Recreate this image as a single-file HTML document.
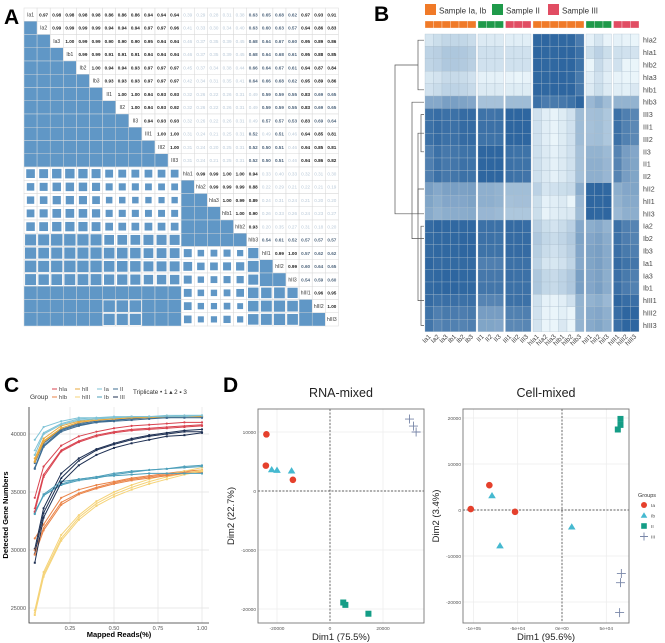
<!DOCTYPE html>
<html><head><meta charset="utf-8"><style>
html,body{margin:0;padding:0;background:#fff;}
svg{display:block;font-family:"Liberation Sans",sans-serif;}
</style></head><body>
<svg id="fig" width="665" height="643" viewBox="0 0 665 643" xmlns="http://www.w3.org/2000/svg">
<g id="A"></g>
<g id="B"></g>
<g id="C"></g>
<g id="D"></g>
<text x="4" y="24" font-size="21" font-weight="bold">A</text>
<text x="374" y="21" font-size="21" font-weight="bold">B</text>
<text x="4" y="392" font-size="21" font-weight="bold">C</text>
<text x="223" y="392" font-size="21" font-weight="bold">D</text>
</svg>
<script>
const samples=["Ia1","Ia2","Ia3","Ib1","Ib2","Ib3","II1","II2","II3","III1","III2","III3","hIa1","hIa2","hIa3","hIb1","hIb2","hIb3","hII1","hII2","hII3","hIII1","hIII2","hIII3"];
const corrRows=[
[.97,.98,.98,.98,.98,.86,.86,.86,.94,.94,.94,.39,.29,.28,.31,.38,.63,.65,.68,.62,.97,.93,.91],
[.99,.99,.99,.99,.94,.94,.94,.97,.97,.96,.41,.33,.30,.34,.40,.63,.60,.63,.57,.94,.86,.83],
[1.00,.99,.99,.90,.90,.90,.95,.94,.94,.46,.37,.35,.39,.45,.68,.64,.67,.60,.95,.89,.86],
[.99,.99,.91,.91,.91,.94,.94,.94,.46,.37,.35,.39,.45,.68,.64,.68,.61,.95,.88,.85],
[1.00,.94,.94,.93,.97,.97,.97,.45,.37,.34,.38,.44,.66,.64,.67,.61,.94,.87,.84],
[.93,.93,.93,.97,.97,.97,.42,.34,.31,.35,.41,.64,.66,.68,.62,.95,.89,.86],
[1.00,1.00,.94,.93,.93,.32,.26,.22,.26,.31,.49,.59,.59,.55,.83,.69,.65],
[1.00,.94,.93,.92,.32,.26,.22,.26,.31,.49,.59,.59,.55,.83,.69,.65],
[.94,.93,.93,.32,.26,.22,.26,.31,.49,.57,.57,.53,.83,.69,.64],
[1.00,1.00,.31,.24,.21,.25,.31,.52,.49,.51,.46,.94,.85,.81],
[1.00,.31,.24,.20,.25,.31,.52,.50,.51,.46,.94,.85,.81],
[.31,.24,.21,.25,.31,.52,.50,.51,.46,.94,.86,.82],
[.99,.99,1.00,1.00,.94,.33,.40,.33,.32,.31,.30],
[.99,.99,.99,.88,.22,.29,.21,.22,.21,.19],
[1.00,.99,.89,.24,.31,.24,.21,.20,.20],
[1.00,.90,.26,.33,.26,.24,.23,.27],
[.93,.20,.35,.27,.31,.18,.20],
[.54,.61,.52,.57,.57,.57],
[.99,1.00,.57,.62,.62],
[.99,.60,.64,.65],
[.54,.59,.60],
[.96,.95],
[1.00]];
const heatRowOrder=["hIa2","hIa1","hIb2","hIa3","hIb1","hIb3","III3","III1","III2","II3","II1","II2","hII2","hII1","hII3","Ia2","Ib2","Ib3","Ia1","Ia3","Ib1","hIII1","hIII2","hIII3"];
const annoGroups=["Sample Ia, Ib","Sample Ia, Ib","Sample Ia, Ib","Sample Ia, Ib","Sample Ia, Ib","Sample Ia, Ib","Sample II","Sample II","Sample II","Sample III","Sample III","Sample III","Sample Ia, Ib","Sample Ia, Ib","Sample Ia, Ib","Sample Ia, Ib","Sample Ia, Ib","Sample Ia, Ib","Sample II","Sample II","Sample II","Sample III","Sample III","Sample III"];
// Panel C data
const mappedFrac=[0.05,0.1,0.2,0.3,0.4,0.5,0.6,0.7,0.8,0.9,1.0];
const cGroups=["hIa","hIb","hII","hIII","Ia","Ib","II","III"];
const cColors=["#d9434f","#ea8347","#e8a83c","#f5d378","#7fc3d6","#4d9fba","#3d6c92","#1d2f52"];
const geneRep1=[
[34500,37200,39000,39800,40200,40500,40700,40800,40900,41000,41000],
[31000,32200,34500,35200,35600,35900,36200,36400,36600,36800,36900],
[37900,39600,40700,41100,41300,41400,41500,41500,41500,41500,41600],
[24800,28100,31300,33000,34200,35000,35600,36100,36500,36800,37100],
[39500,40600,41100,41400,41400,41500,41500,41500,41600,41600,41600],
[33300,34700,35700,36100,36300,36600,36800,36900,37000,37200,37300],
[37500,39200,40400,40900,41100,41200,41300,41400,41400,41500,41500],
[30100,33600,36600,37900,38700,39200,39600,39900,40100,40300,40400]];
const geneRep2=[
[33600,36500,38600,39400,39900,40200,40400,40500,40600,40700,40800],
[30000,31900,34100,34900,35400,35800,36100,36300,36500,36700,36800],
[37700,39400,40500,41000,41200,41300,41400,41500,41500,41500,41500],
[24600,27900,31000,32800,34000,34800,35400,35900,36300,36600,36900],
[38600,40100,40900,41300,41400,41400,41500,41500,41500,41600,41600],
[33200,34700,35600,36000,36200,36500,36700,36900,37000,37100,37200],
[37100,39000,40300,40800,41000,41200,41300,41400,41400,41500,41500],
[29700,33200,36200,37700,38600,39100,39500,39800,40000,40200,40200]];
const geneRep3=[
[33300,36300,38500,39300,39800,40100,40300,40400,40500,40600,40700],
[29600,31700,33900,34800,35300,35700,36000,36200,36400,36600,36700],
[37600,39300,40500,41000,41200,41300,41400,41400,41500,41500,41500],
[24400,27700,30800,32600,33800,34600,35200,35700,36100,36500,36800],
[38200,40000,40800,41200,41300,41400,41500,41500,41500,41500,41600],
[33100,34800,35900,36100,36300,36400,36500,36600,36600,36600,36600],
[37000,38900,40200,40700,41000,41100,41200,41300,41400,41400,41400],
[28900,32800,35800,37300,38200,38800,39200,39500,39800,39900,40100]];
const cXTicks=[0.25,0.5,0.75,1.0];
const cXTickLabels=["0.25","0.50","0.75","1.00"];
const cYTicks=[25000,30000,35000,40000];
// Panel D data
const pcaGroups=["Ia","Ib","II","III"];
const pcaColors=["#e5402c","#45b9d0","#149d86","#7886a8"];
const rnaX=[[-24000,-24200,-14000],[-22000,-20000,-14500],[5000,5800,14500],[30000,31500,32500]];
const rnaY=[[9600,4300,1900],[3600,3500,3400],[-18900,-19300,-20800],[12200,11000,10000]];
const cellX=[[-103000,-82000,-53000],[-79000,-70000,11000],[66000,66000,63000],[67000,66000,65000]];
const cellY=[[200,5400,-400],[3100,-7800,-3700],[19800,18500,17500],[-13800,-15800,-22300]];
const rnaXTicks=[-20000,0,20000];
const rnaYTicks=[-20000,-10000,0,10000];
const cellXTicks=[-100000,-50000,0,50000];
const cellXTickLabels=["-1e+05","-5e+04","0e+00","5e+04"];
const cellYTicks=[-20000,-10000,0,10000,20000];

const NS="http://www.w3.org/2000/svg";
function mk(parent,tag,attrs,txt){const e=document.createElementNS(NS,tag);for(const k in attrs)e.setAttribute(k,attrs[k]);if(txt!==undefined)e.textContent=txt;parent.appendChild(e);return e;}
function corr(i,j){if(i===j)return 1;const a=Math.min(i,j),b=Math.max(i,j);return corrRows[a][b-a-1];}

// ---------- Panel A ----------
(function(){
const g=document.getElementById("A");
const x0=24,y0=8,cw=13.1,ch=13.25,n=samples.length;
for(let i=0;i<n;i++)for(let j=0;j<n;j++){
 const x=x0+j*cw,y=y0+i*ch;
 const cell=mk(g,"rect",{x:x,y:y,width:cw,height:ch,fill:"#fff",stroke:"#d8d8d8","stroke-width":0.5});
 
 
 if(i===j){
  const t=mk(g,"text",{x:x+cw/2,y:y+ch/2+1.8,"font-size":5,"text-anchor":"middle",fill:"#333"},samples[i]);
  
  
 }else if(j>i){
  const v=corr(i,j);
  const col=v>=0.8?"#222":(v>=0.5?"#51677e":"#b9c9d8");
  const t=mk(g,"text",{x:x+cw/2,y:y+ch/2+1.8,"font-size":4.6,"text-anchor":"middle",fill:col,"font-weight":v>=0.5?"bold":"normal"},v.toFixed(2));
  
  
 }else{
  const v=corr(i,j);
  const f=Math.min(1,1.15*Math.sqrt(v));
  const w=f>=0.99?cw-0.4:cw*f*0.92,h=f>=0.99?ch-0.4:ch*f*0.92;
  const s=mk(g,"rect",{x:x+(cw-w)/2,y:y+(ch-h)/2,width:w,height:h,fill:"#6097c6"});
  
  
 }
}
})();

// ---------- Panel B ----------
(function(){
const g=document.getElementById("B");
const x0=425,y0=34,cw=8.5,rh=12.4,gap=2;
const gapsAfter=[5,8,11,17,20];
const colX=[];let cx=x0;
for(let j=0;j<24;j++){colX.push(cx);cx+=cw;if(gapsAfter.includes(j))cx+=gap;}
const annoCol={"Sample Ia, Ib":"#f07a28","Sample II":"#1f9a4a","Sample III":"#e14d63"};
const lg=[["Sample Ia, Ib",425],["Sample II",492],["Sample III",548]];
lg.forEach(l=>{
 const r=mk(g,"rect",{x:l[1],y:4,width:11,height:11,fill:annoCol[l[0]]});
 
 
 const t=mk(g,"text",{x:l[1]+14,y:13.5,"font-size":8,fill:"#333"},l[0]);
 
 
});
for(let j=0;j<24;j++){
 const a=mk(g,"rect",{x:colX[j],y:21,width:cw,height:7,fill:annoCol[annoGroups[j]],stroke:"#fff","stroke-width":0.3});
 
 
}
function col(v){let t=(v-0.2)/0.8;t=Math.max(0,Math.min(1,t));const a=[234,245,250],b=[46,102,160];return "rgb("+a.map((c,k)=>Math.round(c+(b[k]-c)*t)).join(",")+")";}
heatRowOrder.forEach((name,r)=>{
 const i=samples.indexOf(name),y=y0+r*rh;
 for(let j=0;j<24;j++){
  const c=mk(g,"rect",{x:colX[j],y:y,width:cw,height:rh,fill:col(corr(i,j)),stroke:"#a9bccb","stroke-width":0.3});
  
  
 }
 const t=mk(g,"text",{x:643,y:y+rh/2+2.5,"font-size":7,fill:"#444"},name);
 
 
});
for(let j=0;j<24;j++){
 const t=mk(g,"text",{x:colX[j]+cw/2+2,y:337,"font-size":6.5,fill:"#444","text-anchor":"end",transform:"rotate(-45 "+(colX[j]+cw/2+2)+" 337)"},samples[j]);
 
 
}
const ry=r=>y0+r*rh+rh/2;
const dg=[[418,ry(0),ry(4),424],[395,(ry(0)+ry(4))/2,ry(14),418],[412,ry(5),ry(16),424],[418,ry(7.5),ry(21),424],[421,ry(6),ry(9),424],[418,ry(12),ry(14),424],[421,ry(15),ry(23),424]];
dg.forEach(d=>{
 const p=mk(g,"path",{d:"M"+d[3]+","+d[1]+"H"+d[0]+"V"+d[2]+"H"+d[3],fill:"none",stroke:"#555","stroke-width":0.7});
 
 
});
})();

// ---------- Panel C ----------
(function(){
const g=document.getElementById("C");
const L=29,R=209,T=407,B=623;
const sx=v=>26+v*176, sy=v=>434-(v-40000)*58/5000;
cYTicks.forEach(v=>{
 const l=mk(g,"line",{x1:L,x2:R,y1:sy(v),y2:sy(v),stroke:"#e3e3e3","stroke-width":0.7});
 
 
 const t=mk(g,"text",{x:L-3,y:sy(v)+2,"font-size":5.5,"text-anchor":"end",fill:"#555"},String(v));
 
 
});
cXTicks.forEach((v,k)=>{
 const l=mk(g,"line",{x1:sx(v),x2:sx(v),y1:T,y2:B,stroke:"#e3e3e3","stroke-width":0.7});
 
 
 const t=mk(g,"text",{x:sx(v),y:B+7,"font-size":5.5,"text-anchor":"middle",fill:"#555"},cXTickLabels[k]);
 
 
});
const ax=mk(g,"path",{d:"M"+L+","+T+"V"+B+"H"+R,fill:"none",stroke:"#333","stroke-width":0.8});


const reps=[geneRep1,geneRep2,geneRep3];
reps.forEach((rep,ri)=>{
 rep.forEach((ys,gi)=>{
  const d=ys.map((v,k)=>(k?"L":"M")+sx(mappedFrac[k]).toFixed(1)+","+sy(v).toFixed(1)).join("");
  const p=mk(g,"path",{d:d,fill:"none",stroke:cColors[gi],"stroke-width":1});
  
  
  ys.forEach((v,k)=>{
   const x=sx(mappedFrac[k]),y=sy(v);let m;
   if(ri===0)m=mk(g,"circle",{cx:x,cy:y,r:1.1,fill:cColors[gi]});
   else if(ri===1)m=mk(g,"path",{d:"M"+x+","+(y-1.4)+"l1.3,2.3h-2.6z",fill:cColors[gi]});
   else m=mk(g,"rect",{x:x-1,y:y-1,width:2,height:2,fill:cColors[gi]});
   
   
  });
 });
});
const yl=mk(g,"text",{x:8,y:515,"font-size":7.5,"font-weight":"bold","text-anchor":"middle",transform:"rotate(-90 8 515)"},"Detected Gene Numbers");


const xl=mk(g,"text",{x:119,y:637,"font-size":7.5,"font-weight":"bold","text-anchor":"middle"},"Mapped Reads(%)");


const gt=mk(g,"text",{x:30,y:399,"font-size":6.5,fill:"#333"},"Group");


const pos=[[0,52,391],[1,52,399],[2,75,391],[3,75,399],[4,97,391],[5,97,399],[6,113,391],[7,113,399]];
pos.forEach(p=>{
 const l=mk(g,"line",{x1:p[1],x2:p[1]+5,y1:p[2]-2,y2:p[2]-2,stroke:cColors[p[0]],"stroke-width":1});
 
 
 const t=mk(g,"text",{x:p[1]+7,y:p[2],"font-size":5.8,fill:"#444"},cGroups[p[0]]);
 
 
});
const tt=mk(g,"text",{x:133,y:394,"font-size":6.3,fill:"#333"},"Triplicate  •  1  ▴  2  ▪  3");


})();

// ---------- Panel D ----------
function pca(id,title,L,R,sx,sy,xT,xTL,yT,xs,ys,xlab,ylab){
const g=document.getElementById("D");
const T=409,B=623;
const sub=mk(g,"g",{});


const ti=mk(sub,"text",{x:(L+R)/2,y:397,"font-size":12.5,"text-anchor":"middle",fill:"#222"},title);


yT.forEach(v=>{
 const l=mk(sub,"line",{x1:L,x2:R,y1:sy(v),y2:sy(v),stroke:"#ececec","stroke-width":0.7});
 
 
 const t=mk(sub,"text",{x:L-2,y:sy(v)+1.8,"font-size":4.8,"text-anchor":"end",fill:"#555"},String(v));
 
 
});
xT.forEach((v,k)=>{
 const l=mk(sub,"line",{x1:sx(v),x2:sx(v),y1:T,y2:B,stroke:"#ececec","stroke-width":0.7});
 
 
 const t=mk(sub,"text",{x:sx(v),y:B+7,"font-size":4.8,"text-anchor":"middle",fill:"#555"},xTL[k]);
 
 
});
const z1=mk(sub,"line",{x1:sx(0),x2:sx(0),y1:T,y2:B,stroke:"#333","stroke-width":0.7,"stroke-dasharray":"2,1.5"});


const z2=mk(sub,"line",{x1:L,x2:R,y1:sy(0),y2:sy(0),stroke:"#333","stroke-width":0.7,"stroke-dasharray":"2,1.5"});


const bx=mk(sub,"rect",{x:L,y:T,width:R-L,height:B-T,fill:"none",stroke:"#777","stroke-width":0.9});


xs.forEach((arr,gi)=>arr.forEach((xv,k)=>{
 const x=sx(xv),y=sy(ys[gi][k]),c=pcaColors[gi];let m;
 if(gi===0)m=mk(sub,"circle",{cx:x,cy:y,r:3.3,fill:c});
 else if(gi===1)m=mk(sub,"path",{d:"M"+x+","+(y-3.8)+"l3.8,6.3h-7.6z",fill:c});
 else if(gi===2)m=mk(sub,"rect",{x:x-3,y:y-3,width:6,height:6,fill:c});
 else m=mk(sub,"path",{d:"M"+(x-4.5)+","+y+"h9M"+x+","+(y-4.5)+"v9",stroke:c,"stroke-width":0.9});
 
 
}));
const xl=mk(sub,"text",{x:(L+R)/2,y:640,"font-size":9.5,"text-anchor":"middle",fill:"#222"},xlab);


const yx=L-24;
const yl=mk(sub,"text",{x:yx,y:516,"font-size":9.5,"text-anchor":"middle",fill:"#222",transform:"rotate(-90 "+yx+" 516)"},ylab);


}
pca("rna-mixed-plot","RNA-mixed",258,424,v=>330+v*53/20000,v=>491-v*59/10000,rnaXTicks,rnaXTicks.map(String),rnaYTicks,rnaX,rnaY,"Dim1 (75.5%)","Dim2 (22.7%)");
pca("cell-mixed-plot","Cell-mixed",463,629,v=>562+v*44.3/50000,v=>510-v*46/10000,cellXTicks,cellXTickLabels,cellYTicks,cellX,cellY,"Dim1 (95.6%)","Dim2 (3.4%)");
(function(){
const g=document.getElementById("D");
const t=mk(g,"text",{x:638,y:497,"font-size":5.5,fill:"#333"},"Groups");


pcaGroups.forEach((name,gi)=>{
 const x=644,y=505+gi*10.5,c=pcaColors[gi];let m;
 if(gi===0)m=mk(g,"circle",{cx:x,cy:y,r:3,fill:c});
 else if(gi===1)m=mk(g,"path",{d:"M"+x+","+(y-3.3)+"l3.3,5.6h-6.6z",fill:c});
 else if(gi===2)m=mk(g,"rect",{x:x-2.8,y:y-2.8,width:5.6,height:5.6,fill:c});
 else m=mk(g,"path",{d:"M"+(x-4)+","+y+"h8M"+x+","+(y-4)+"v8",stroke:c,"stroke-width":0.9});
 
 
 const l=mk(g,"text",{x:651,y:y+1.8,"font-size":4.8,fill:"#444"},name);
 
 
});
})();
</script>
</body></html>
